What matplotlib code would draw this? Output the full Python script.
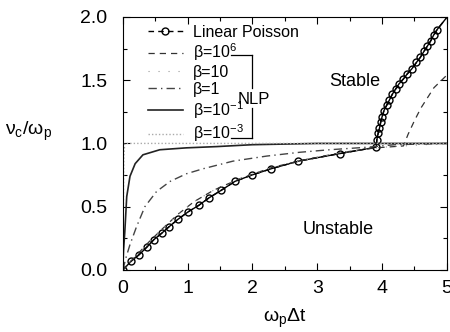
import matplotlib
matplotlib.use("Agg")
import matplotlib.pyplot as plt
from matplotlib.ticker import MultipleLocator

plt.rcParams['font.family'] = ['Liberation Sans', 'DejaVu Sans']
plt.rcParams['mathtext.fontset'] = 'custom'
plt.rcParams['mathtext.rm'] = 'Liberation Sans'
plt.rcParams['mathtext.it'] = 'Liberation Sans'

# Linear Poisson (circles), lower then upper branch
lp_x = [0, 0.13, 0.25, 0.37, 0.48, 0.60, 0.71, 0.85, 1.01, 1.17, 1.33, 1.52, 1.73,
        1.99, 2.29, 2.71, 3.35, 3.91,
        3.92, 3.94, 3.96, 3.98, 4.00, 4.03, 4.07, 4.11, 4.16, 4.21, 4.26, 4.33,
        4.39, 4.46, 4.53, 4.59, 4.65, 4.70, 4.75, 4.80, 4.85, 4.99]
lp_y = [0, 0.07, 0.12, 0.18, 0.24, 0.29, 0.34, 0.40, 0.46, 0.51, 0.57, 0.63, 0.70,
        0.75, 0.80, 0.86, 0.92, 0.97,
        1.03, 1.08, 1.12, 1.17, 1.21, 1.26, 1.30, 1.34, 1.39, 1.43, 1.47, 1.51,
        1.55, 1.59, 1.64, 1.68, 1.73, 1.77, 1.81, 1.86, 1.90, 1.99]

# NLP curves
b6_x = [0, 0.2, 0.4, 0.6, 0.85, 1.1, 1.4, 1.8, 2.3, 2.8, 3.4, 3.9, 4.33,
        4.4, 4.5, 4.6, 4.7, 4.8, 4.9, 5.0]
b6_y = [0, 0.11, 0.22, 0.32, 0.44, 0.54, 0.63, 0.72, 0.81, 0.87, 0.93, 0.965, 0.98,
        1.07, 1.18, 1.28, 1.36, 1.44, 1.49, 1.54]

b10_x = [0, 0.2, 0.4, 0.6, 0.85, 1.1, 1.4, 1.8, 2.3, 2.8, 3.4, 4.0, 5.0]
b10_y = [0, 0.11, 0.22, 0.32, 0.44, 0.54, 0.63, 0.72, 0.81, 0.87, 0.93, 0.97, 1.0]

b1_x = [0, 0.05, 0.11, 0.21, 0.34, 0.52, 0.73, 0.98, 1.24, 1.47, 1.70, 2.22,
        2.73, 3.19, 3.77, 4.2, 5.0]
b1_y = [0, 0.10, 0.20, 0.34, 0.50, 0.62, 0.70, 0.76, 0.80, 0.83, 0.86, 0.90,
        0.93, 0.95, 0.97, 0.99, 1.0]

b01_x = [0, 0.01, 0.03, 0.06, 0.11, 0.19, 0.31, 0.57, 0.98, 1.45, 2.0, 3.0, 5.0]
b01_y = [0, 0.15, 0.30, 0.58, 0.74, 0.84, 0.91, 0.95, 0.965, 0.975, 0.99, 1.0, 1.0]

b3_x = [0, 0.015, 0.03, 0.1, 5.0]
b3_y = [0, 0.9, 1.0, 1.0, 1.0]

fig = plt.figure(figsize=(4.5, 3.32), dpi=100)
ax = fig.add_axes([0.273, 0.187, 0.72, 0.762])

ax.plot(lp_x, lp_y, color='black', lw=1.0, ls=(0, (4, 3)), marker='o', ms=5,
        mfc='none', mew=1.0, markevery=list(range(len(lp_x) - 1)),
        label='Linear Poisson')
ax.plot(lp_x, lp_y, color='black', lw=1.0)
ax.plot(b6_x, b6_y, color='#333333', lw=0.9, ls=(0, (5, 4)),
        label='β=10$^{6}$')
ax.plot(b10_x, b10_y, color='#999999', lw=0.8, ls=(0, (1, 8)),
        label='β=10')
ax.plot(b1_x, b1_y, color='#444444', lw=1.0, ls=(0, (6, 3, 1, 3)),
        label='β=1')
ax.plot(b01_x, b01_y, color='#222222', lw=1.2,
        label='β=10$^{-1}$')
ax.plot(b3_x, b3_y, color='#aaaaaa', lw=1.0, ls=(0, (1, 1.5)),
        label='β=10$^{-3}$')

ax.set_xlim(0, 5)
ax.set_ylim(0, 2.0)
ax.xaxis.set_major_locator(MultipleLocator(1))
ax.xaxis.set_minor_locator(MultipleLocator(0.5))
ax.yaxis.set_major_locator(MultipleLocator(0.5))
ax.yaxis.set_minor_locator(MultipleLocator(0.25))
ax.yaxis.set_major_formatter(plt.FormatStrFormatter('%.1f'))
ax.tick_params(which='both', direction='in', top=True, right=True, labelsize=14)
ax.tick_params(which='major', length=5, width=0.8)
ax.tick_params(which='minor', length=3, width=0.8)
ax.tick_params(axis='y', which='major', pad=11)
ax.tick_params(axis='x', which='major', pad=7)

ax.set_xlabel(r'$\mathregular{\omega_p\Delta t}$', fontsize=14, labelpad=7)
ax.set_ylabel(r'$\mathregular{\nu_c/\omega_p}$', fontsize=14, rotation=0,
              labelpad=0)
ax.yaxis.set_label_coords(-0.29, 0.5)

ax.text(3.58, 1.49, 'Stable', fontsize=13, ha='center', va='center')
ax.text(3.32, 0.32, 'Unstable', fontsize=13, ha='center', va='center')

leg = ax.legend(loc='upper left', bbox_to_anchor=(0.077, 0.97), frameon=False,
                fontsize=11.5, handlelength=2.2, handletextpad=0.6,
                labelspacing=0.12, borderpad=0, borderaxespad=0)

# NLP bracket
tr = ax.transAxes
ax.plot([0.335, 0.398], [0.85, 0.85], color='black', lw=0.9, transform=tr)
ax.plot([0.398, 0.398], [0.85, 0.72], color='black', lw=0.9, transform=tr)
ax.plot([0.398, 0.398], [0.64, 0.52], color='black', lw=0.9, transform=tr)
ax.plot([0.335, 0.398], [0.52, 0.52], color='black', lw=0.9, transform=tr)
ax.text(0.404, 0.675, 'NLP', fontsize=12, ha='center', va='center', transform=tr,
        bbox=dict(facecolor='white', edgecolor='none', pad=0.5))

fig.savefig('out.png', dpi=100)
